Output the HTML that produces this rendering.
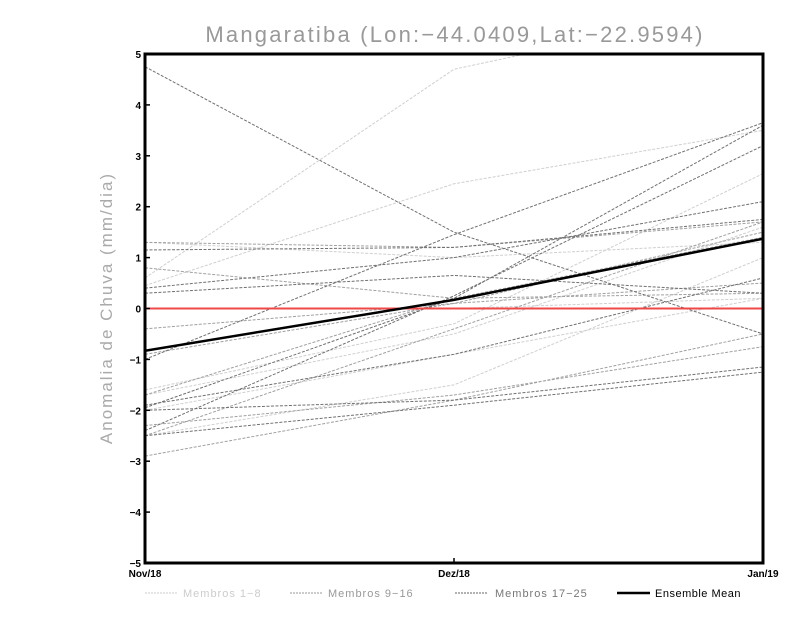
<!DOCTYPE html>
<html><head><meta charset="utf-8"><style>
body{margin:0;background:#fff;width:800px;height:618px;overflow:hidden}
svg{display:block}
text{font-family:"Liberation Sans",sans-serif}
</style></head><body>
<svg id="chart" width="800" height="618">
<defs><clipPath id="plotclip"><rect x="145" y="54" width="618" height="509"/></clipPath></defs>
<text x="455" y="42" text-anchor="middle" font-size="22" fill="#999" letter-spacing="2.2">Mangaratiba (Lon:−44.0409,Lat:−22.9594)</text>
<text transform="translate(112,308) rotate(-90)" text-anchor="middle" font-size="17" fill="#aaa" letter-spacing="2">Anomalia de Chuva (mm/dia)</text>
<g id="lines" clip-path="url(#plotclip)"></g>
<g id="axes"></g>
<g id="legend">
<line x1="145" y1="593" x2="178" y2="593" stroke="#ccc" stroke-dasharray="2,1"/>
<text x="183" y="597" font-size="11" fill="#ccc" letter-spacing="1">Membros 1−8</text>
<line x1="290" y1="593" x2="323" y2="593" stroke="#999" stroke-dasharray="2,1"/>
<text x="328" y="597" font-size="11" fill="#999" letter-spacing="1">Membros 9−16</text>
<line x1="455" y1="593" x2="488" y2="593" stroke="#666" stroke-dasharray="2,1"/>
<text x="495" y="597" font-size="11" fill="#777" letter-spacing="1">Membros 17−25</text>
<line x1="617" y1="593" x2="650" y2="593" stroke="#000" stroke-width="2.5"/>
<text x="655" y="597" font-size="11" fill="#000" letter-spacing="0.5">Ensemble Mean</text>
</g>
</svg>
<script>
const categories = ["Nov/18","Dez/18","Jan/19"];
const yTicks = [-5,-4,-3,-2,-1,0,1,2,3,4,5];
const members1to8 = [[0.6,4.7,6.0],[0.45,2.45,3.5],[1.3,1.0,1.3],[-1.6,-0.3,2.65],[-1.7,-0.5,1.6],[-2.0,-0.9,0.2],[0.0,0.0,0.2],[-2.5,-1.5,1.0]];
const members9to16 = [[0.8,0.2,0.3],[-0.4,0.1,0.5],[-0.9,0.1,1.5],[-2.9,-1.8,-0.5],[-2.3,-1.7,-0.75],[-2.5,-0.4,1.7],[1.3,1.2,1.7],[-1.7,0.2,1.4]];
const members17to25 = [[4.75,1.5,-0.5],[0.4,1.0,2.1],[0.3,0.65,0.3],[-1.0,1.45,3.65],[-1.9,-0.9,0.6],[-2.0,-1.8,-1.15],[-2.5,-1.9,-1.25],[-1.95,0.2,3.6],[1.15,1.2,1.75],[-2.4,0.25,3.2]];
const ensembleMean = [-0.83,0.17,1.37];

const X0=145,X1=763,Y0=54,Y1=563;
function xs(i){return X0+(X1-X0)*i/(categories.length-1);}
function ys(v){return Y1-(v+5)/10*(Y1-Y0);}
const NS="http://www.w3.org/2000/svg";
const lines=document.getElementById('lines'), axes=document.getElementById('axes');
function mk(tag,attrs,parent){const e=document.createElementNS(NS,tag);for(const k in attrs)e.setAttribute(k,attrs[k]);parent.appendChild(e);return e;}
function pts(a){return a.map((v,i)=>xs(i)+','+ys(v)).join(' ');}
function group(arr,color,name){arr.forEach((s,j)=>{
  const p=mk('polyline',{points:pts(s),fill:'none',stroke:color,'stroke-width':1,'stroke-dasharray':'3,1.5'},lines);
  
  
});}
group(members1to8,'#cfcfcf','member-light');
group(members9to16,'#a0a0a0','member-mid');
group(members17to25,'#707070','member-dark');
const zl=mk('line',{x1:X0,x2:X1,y1:ys(0),y2:ys(0),stroke:'#f04848','stroke-width':2},lines);


const ml=mk('polyline',{points:pts(ensembleMean),fill:'none',stroke:'#000','stroke-width':2.5},lines);


const fr=mk('rect',{x:X0,y:Y0,width:X1-X0,height:Y1-Y0,fill:'none',stroke:'#000','stroke-width':3},axes);


yTicks.forEach(v=>{
  const t=mk('line',{x1:X0,x2:X0+5,y1:ys(v),y2:ys(v),stroke:'#000','stroke-width':1.5},axes);
  
  
  const l=mk('text',{x:X0-4,y:ys(v)+4,'text-anchor':'end','font-size':10,'font-weight':'bold'},axes);
  l.textContent=String(v).replace('-','−');
  
  
});
categories.forEach((c,i)=>{
  const t=mk('line',{x1:xs(i),x2:xs(i),y1:Y1,y2:Y1-5,stroke:'#000','stroke-width':1.5},axes);
  
  
  const l=mk('text',{x:xs(i),y:Y1+14,'text-anchor':'middle','font-size':10,'font-weight':'bold'},axes);
  l.textContent=c;
  
  
});
</script>
</body></html>
